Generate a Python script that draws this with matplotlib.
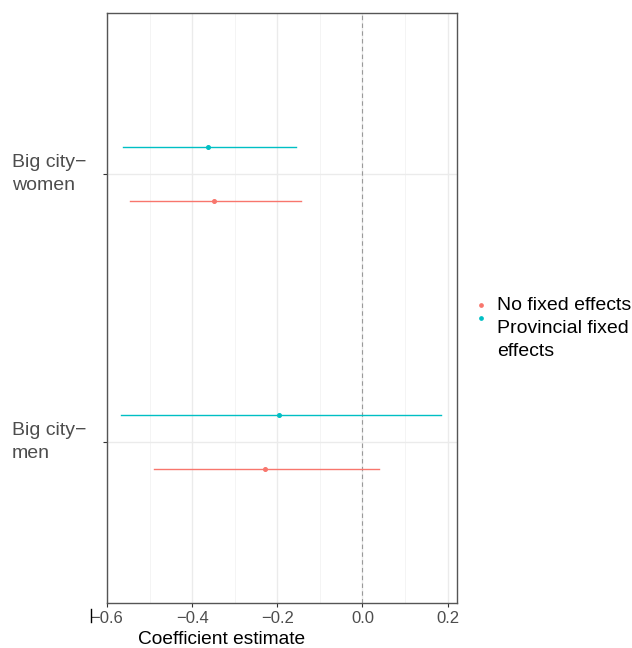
import matplotlib
matplotlib.use("Agg")
import matplotlib.pyplot as plt
from matplotlib.lines import Line2D
import matplotlib.transforms as mtransforms

plt.rcParams['font.family'] = ['Liberation Sans', 'DejaVu Sans']

# Data
categories = ["Big city\u2212\nmen", "Big city\u2212\nwomen"]
series_names = ["No fixed effects", "Provincial fixed\neffects"]
colors = ["#F8766D", "#00BFC4"]
# estimates [men, women]
est_nofe = [-0.228, -0.348]
lo_nofe = [-0.489, -0.546]
hi_nofe = [0.039, -0.144]
est_prov = [-0.195, -0.363]
lo_prov = [-0.566, -0.563]
hi_prov = [0.184, -0.155]
xticks = [-0.6, -0.4, -0.2, 0.0, 0.2]
xtick_labels = ["\u22120.6", "\u22120.4", "\u22120.2", "0.0", "0.2"]
minor_ticks = [-0.5, -0.3, -0.1, 0.1]

W, H = 632, 648
fig = plt.figure(figsize=(W / 100, H / 100), dpi=100)
ax = fig.add_axes([107 / W, 45 / H, 350 / W, 590 / H])

ax.set_xlim(-0.6, 0.222)
ax.set_ylim(0.4, 2.6)

# grid
for m in minor_ticks:
    ax.axvline(m, color="#F2F2F2", lw=0.6, zorder=0)
for t in xticks:
    ax.axvline(t, color="#EBEBEB", lw=1.0, zorder=0)
for i in range(len(categories)):
    ax.axhline(i + 1, color="#EBEBEB", lw=1.0, zorder=0)

ax.axvline(0, color="#9A9A9A", lw=0.8, ls=(0, (4, 3)), zorder=1)

offsets = [-0.1, 0.1]
series = [(est_nofe, lo_nofe, hi_nofe), (est_prov, lo_prov, hi_prov)]
for (est, lo, hi), off, col in zip(series, offsets, colors):
    for i in range(len(categories)):
        y = i + 1 + off
        ax.plot([lo[i], hi[i]], [y, y], color=col, lw=1.0, zorder=2)
        ax.plot([est[i]], [y], marker="o", ms=2.6, color=col, mec=col, zorder=3)

ax.set_xticks(xticks)
ax.set_xticklabels(xtick_labels, fontsize=12, color="#4D4D4D")
ax.tick_params(axis="x", length=3, width=0.8, color="#333333", pad=3)
ax.set_yticks([1, 2])
ax.set_yticklabels([])
ax.tick_params(axis="y", length=3, width=0.8, color="#333333")
for sp in ax.spines.values():
    sp.set_color("#555555")
    sp.set_linewidth(1.0)

# y tick labels, left aligned
trans = mtransforms.blended_transform_factory(fig.transFigure, ax.transData)
for i, lab in enumerate(categories):
    fig.text(12 / W, i + 1, lab, transform=trans, ha="left", va="center",
             fontsize=14, color="#4D4D4D", linespacing=1.45)

# x axis title
fig.text(222 / W, 1 - 639 / H, "Coefficient estimate", ha="center", va="center",
         fontsize=13.8, color="black")

# small artifact bar near -0.6 label
fig.add_artist(Line2D([91 / W, 91 / W], [1 - 609 / H, 1 - 622 / H],
                      color="black", lw=1.0, transform=fig.transFigure))

# legend (manual)
leg_y = [305, 318]
text_y = [305, 340]
for col, yk, name, yt in zip(colors, leg_y, series_names, text_y):
    fig.add_artist(Line2D([481 / W], [1 - yk / H], marker="o", ms=2.4, color=col,
                          mec=col, ls="none", transform=fig.transFigure))
    fig.text(497 / W, 1 - yt / H, name, ha="left", va="center", fontsize=14,
             color="black", linespacing=1.5)

fig.savefig("out.png", dpi=100)
